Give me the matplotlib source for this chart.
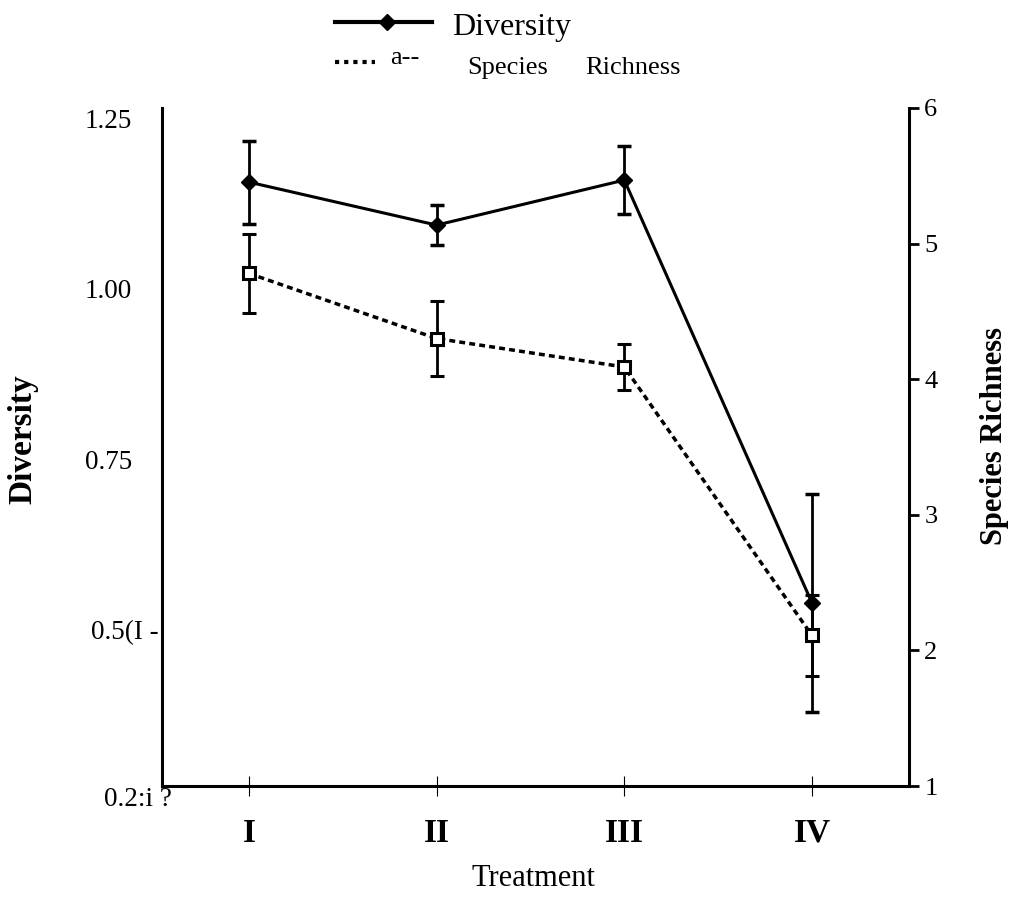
import matplotlib
matplotlib.use("Agg")
import matplotlib.pyplot as plt
from matplotlib.lines import Line2D
from matplotlib.transforms import ScaledTranslation, blended_transform_factory

plt.rcParams['font.family'] = ['Liberation Serif', 'DejaVu Serif']

# data
treatments = ['I', 'II', 'III', 'IV']
x = [1, 2, 3, 4]
diversity = [1.156, 1.093, 1.159, 0.539]
diversity_err = [0.061, 0.029, 0.050, 0.160]
richness = [4.78, 4.30, 4.09, 2.11]
richness_err = [0.29, 0.28, 0.17, 0.30]

left_ticks = [0.5, 0.75, 1.0, 1.25]
left_labels = ['0.5(I -', '0.75', '1.00', '1.25']
right_ticks = [1, 2, 3, 4, 5, 6]
right_labels = ['1', '2', '3', '4', '5', '6']

W, H = 1012, 897
fig = plt.figure(figsize=(W / 100, H / 100), dpi=100)
ax = fig.add_axes([162 / W, 1 - 786 / H, 747 / W, 678 / H])
ax2 = ax.twinx()

# Diversity (left axis)
ax.errorbar(x, diversity, yerr=diversity_err, color='black', lw=2.2,
            marker='D', ms=8, elinewidth=2, capsize=5, capthick=2.5, zorder=3)

# Species richness (right axis)
ax2.errorbar(x, richness, yerr=richness_err, color='black', lw=2.5,
             linestyle=(0, (1.7, 1.2)), marker='s', ms=9, mfc='white',
             mec='black', mew=2.2, elinewidth=2, capsize=5, capthick=2.5)
ax2.plot(x, richness, ls='none', marker='.', ms=2.5, color='black')

ax.set_xlim(0.5365, 4.517)
ax.set_ylim(0.2705, 1.2647)
ax2.set_ylim(1.0, 6.0)

for a in (ax, ax2):
    a.spines['top'].set_visible(False)
ax.spines['right'].set_visible(False)
ax2.spines['left'].set_visible(False)
ax2.spines['bottom'].set_visible(False)
ax.spines['left'].set_linewidth(2.2)
ax.spines['bottom'].set_linewidth(2.2)
ax2.spines['right'].set_linewidth(2.2)

ax.set_xticks(x, treatments)
ax.tick_params(axis='x', direction='inout', length=14, width=0.8, pad=16,
               labelsize=24)
for lab in ax.get_xticklabels():
    lab.set_fontweight('bold')

ax.set_yticks(left_ticks, left_labels)
ax.tick_params(axis='y', length=0, pad=21.5, labelsize=19.5)
lab05 = ax.get_yticklabels()[0]
lab05.set_transform(lab05.get_transform() +
                    ScaledTranslation(0.26, 0, fig.dpi_scale_trans))
trans = blended_transform_factory(ax.transAxes, ax.transData)
ax.text(0.0134, 0.25, '0.2:i ?', transform=trans, ha='right', va='center',
        fontsize=19.5, clip_on=False)

ax2.set_yticks(right_ticks, right_labels)
ax2.tick_params(axis='y', direction='out', length=7, width=2, pad=4,
                labelsize=19)

ax.set_ylabel('Diversity', fontsize=24, fontweight='bold')
ax.yaxis.set_label_coords((38 - 162) / 747, (786 - 439) / 678)
ax2.set_ylabel('Species Richness', fontsize=22, fontweight='bold')
ax2.yaxis.set_label_coords((980 - 162) / 747, (786 - 436) / 678)
ax.set_xlabel('Treatment', fontsize=22)
ax.xaxis.set_label_coords((533 - 162) / 747, -(864 - 786) / 678)

# legend drawn above the plot
def fx(px):
    return px / W

def fy(py):
    return 1 - py / H

fig.add_artist(Line2D([fx(335), fx(432)], [fy(22), fy(22)], color='black', lw=3))
fig.add_artist(Line2D([fx(387)], [fy(22)], marker='D', ms=8, color='black'))
fig.text(fx(452), fy(27), 'Diversity', fontsize=23, ha='left', va='center')
fig.add_artist(Line2D([fx(335), fx(375)], [fy(62), fy(62)], color='black',
                      lw=3, linestyle=(0, (1, 1.2))))
fig.text(fx(390), fy(58), 'a--', fontsize=19, ha='left', va='center')
fig.text(fx(467), fy(68), 'Species', fontsize=19, ha='left', va='center')
fig.text(fx(585), fy(68), 'Richness', fontsize=19, ha='left', va='center')

fig.savefig('out.png', dpi=100)
